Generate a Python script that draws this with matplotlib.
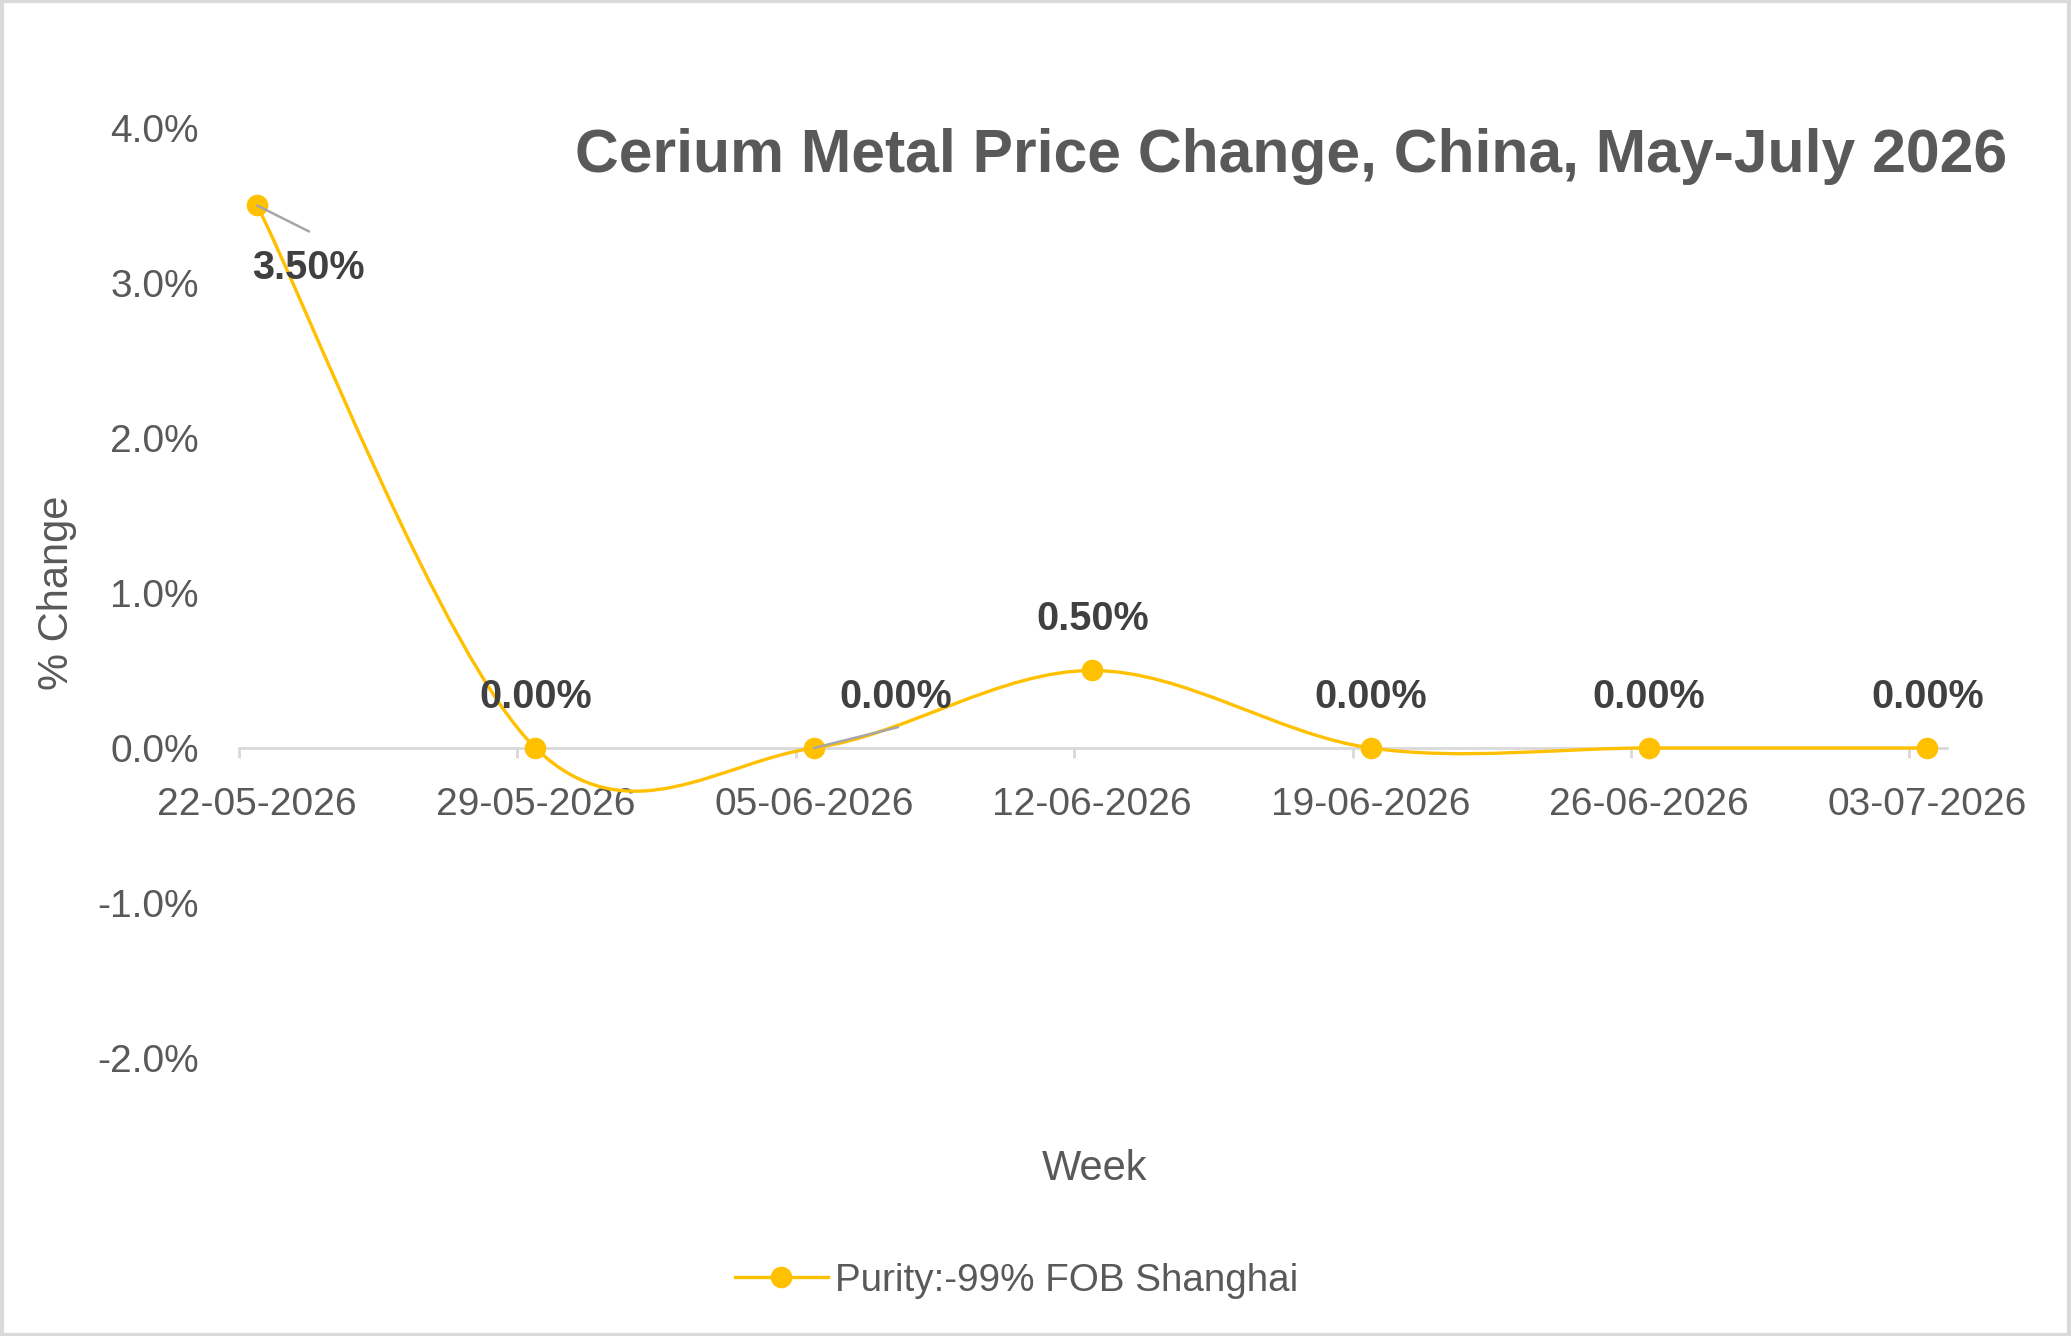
import numpy as np
import matplotlib
matplotlib.use("Agg")
import matplotlib.pyplot as plt
from matplotlib.path import Path
from matplotlib.patches import PathPatch, Rectangle
from matplotlib.lines import Line2D

'''Data'''
weeks = ["22-05-2026", "29-05-2026", "05-06-2026", "12-06-2026",
         "19-06-2026", "26-06-2026", "03-07-2026"]
pct_change = [3.50, 0.00, 0.00, 0.50, 0.00, 0.00, 0.00]
series_name = "Purity:-99% FOB Shanghai"
title = "Cerium Metal Price Change, China, May-July 2026"
y_ticks = [-2.0, -1.0, 0.0, 1.0, 2.0, 3.0, 4.0]

gold = "#FFC000"
grey_txt = "#595959"
dark_txt = "#404040"
axis_grey = "#D9D9D9"
font = "Liberation Sans"

plt.rcParams["font.family"] = [font, "DejaVu Sans"]

fig = plt.figure(figsize=(20.71, 13.36), dpi=100)
ax = fig.add_axes([0.1154, 0.2081, 0.8247, 0.6961])

x = np.arange(len(weeks))
y = np.array(pct_change)

#Smoothed line (excel style bezier smoothing)
pts = np.column_stack([x, y])
padded = np.vstack([pts[:1], pts, pts[-1:]])
verts = [pts[0]]
codes = [Path.MOVETO]
for i in range(len(pts) - 1):
    p0, p1, p2, p3 = padded[i], padded[i + 1], padded[i + 2], padded[i + 3]
    c1 = p1 + (p2 - p0) / 6
    c2 = p2 - (p3 - p1) / 6
    verts += [c1, c2, p2]
    codes += [Path.CURVE4] * 3
ax.add_patch(PathPatch(Path(verts, codes), facecolor="none", edgecolor=gold, lw=2.4, zorder=3))
ax.plot(x, y, linestyle="none", marker="o", markersize=14.5, color=gold, zorder=4)

#Data labels
label_offsets = [(37, -45), (0, 37), (59, 37), (0, 37), (0, 37), (0, 37), (0, 37)]
leaders = {0: (37.4, -18.7), 2: (60.5, 15)}
for i, v in enumerate(pct_change):
    ax.annotate(f"{v:.2f}%", xy=(x[i], v), xytext=label_offsets[i], textcoords="offset points",
                ha="center", va="center", fontsize=28.5, fontweight="bold", color=dark_txt, zorder=6)
for i, off in leaders.items():
    ax.annotate("", xy=(x[i], pct_change[i]), xytext=off, textcoords="offset points",
                arrowprops=dict(arrowstyle="-", color="#A6A6A6", lw=1.8, shrinkA=0, shrinkB=0), zorder=5)

#Axes
ax.set_xlim(-0.062, 6.07)
ax.set_ylim(-2, 4)
for s in ["top", "right", "left"]:
    ax.spines[s].set_visible(False)
ax.spines["bottom"].set_position(("data", 0))
ax.spines["bottom"].set_color(axis_grey)
ax.spines["bottom"].set_linewidth(2)

ax.set_xticks(x)
ax.set_xticklabels(weeks)
ax.set_xticks(x - 0.065, minor=True)
ax.tick_params(axis="x", which="major", length=0, pad=28, labelsize=28, labelcolor=grey_txt)
ax.tick_params(axis="x", which="minor", length=7, width=2, color=axis_grey)
ax.set_yticks(y_ticks)
ax.set_yticklabels([f"{t:.1f}%" for t in y_ticks])
ax.tick_params(axis="y", length=0, pad=29, labelsize=28, labelcolor=grey_txt)

#Texts
fig.text(0.6236, 0.8825, title, ha="center", va="center", fontsize=43.7, fontweight="bold", color=grey_txt)
fig.text(0.0276, 0.5561, "% Change", rotation=90, ha="center", va="center", fontsize=30, color=grey_txt)
fig.text(0.5287, 0.125, "Week", ha="center", va="center", fontsize=30, color=grey_txt)

handle = Line2D([], [], color=gold, lw=2.4, marker="o", markersize=14.5)
fig.legend([handle], [series_name], loc="center", bbox_to_anchor=(0.491, 0.0415), frameon=False,
           fontsize=27.8, labelcolor=grey_txt, handlelength=2.4, handletextpad=0.2)

#Chart border
fig.patches.append(Rectangle((0.001, 0.001), 0.998, 0.998, transform=fig.transFigure,
                             fill=False, edgecolor=axis_grey, lw=3))

fig.savefig("out.png", dpi=100)
